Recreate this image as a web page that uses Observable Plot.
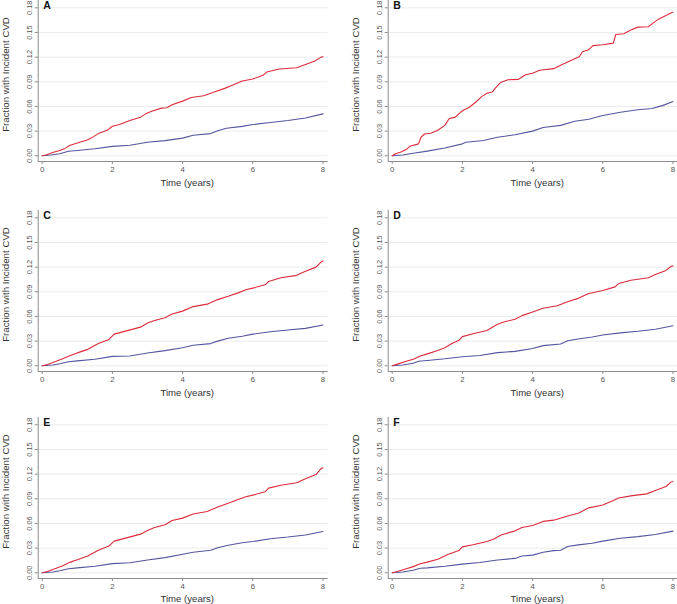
<!DOCTYPE html>
<html><head><meta charset="utf-8">
<script src="https://cdn.jsdelivr.net/npm/d3@7"></script>
<script src="https://cdn.jsdelivr.net/npm/@observablehq/plot@0.6"></script>
<style>
html,body{margin:0;padding:0;background:#fff;overflow:hidden;}
#chart{position:relative;width:677px;height:604px;background:#fff;font-family:"Liberation Sans",Arial,sans-serif;}
.panel{position:absolute;}
</style></head><body><div id="chart"></div>
<script>
// ---- data ----
const panelLetters = ["A","B","C","D","E","F"];
const xTicks = [0, 2, 4, 6, 8];
const yTicks = [0, 0.03, 0.06, 0.09, 0.12, 0.15, 0.18];
const xTitle = "Time (years)";
const yTitle = "Fraction with Incident CVD";

// [time (years), cumulative fraction]
const redA = [[0,0],[0.1,0.001],[0.3,0.004],[0.5,0.0065],[0.65,0.009],[0.78,0.0125],[1.0,0.0155],[1.3,0.0195],[1.45,0.023],[1.6,0.027],[1.85,0.031],[2.0,0.036],[2.2,0.038],[2.5,0.043],[2.8,0.047],[2.95,0.051],[3.1,0.054],[3.4,0.058],[3.55,0.0585],[3.7,0.062],[4.0,0.0665],[4.25,0.071],[4.6,0.073],[4.9,0.0775],[5.2,0.082],[5.4,0.0855],[5.7,0.091],[6.0,0.0935],[6.3,0.098],[6.4,0.102],[6.75,0.1055],[7.25,0.107],[7.5,0.111],[7.75,0.115],[7.95,0.12],[8.0,0.1205]];
const blueA = [[0,0],[0.25,0.001],[0.5,0.0025],[0.75,0.0055],[1.0,0.0065],[1.5,0.0085],[2.0,0.0115],[2.5,0.0128],[3.0,0.0165],[3.5,0.0185],[4.0,0.0215],[4.3,0.025],[4.8,0.027],[5.0,0.0305],[5.25,0.0335],[5.7,0.0358],[6.0,0.038],[6.5,0.0405],[7.0,0.043],[7.5,0.046],[8.0,0.051]];

const redB = [[0,0],[0.1,0.0025],[0.25,0.0045],[0.4,0.0075],[0.5,0.0115],[0.75,0.0145],[0.82,0.0225],[0.92,0.0265],[1.1,0.0275],[1.3,0.031],[1.5,0.037],[1.62,0.045],[1.8,0.047],[1.95,0.053],[2.05,0.056],[2.2,0.059],[2.4,0.066],[2.55,0.072],[2.7,0.076],[2.85,0.0775],[2.95,0.083],[3.1,0.0895],[3.3,0.0925],[3.6,0.093],[3.8,0.0985],[4.0,0.1005],[4.2,0.104],[4.6,0.106],[4.8,0.110],[5.0,0.114],[5.2,0.118],[5.33,0.1205],[5.42,0.1265],[5.6,0.129],[5.72,0.134],[6.0,0.135],[6.3,0.137],[6.37,0.1475],[6.6,0.1485],[6.8,0.153],[7.0,0.1565],[7.3,0.157],[7.42,0.161],[7.6,0.1665],[7.8,0.1705],[7.95,0.174],[8.0,0.1745]];
const blueB = [[0,0],[0.3,0.001],[0.6,0.003],[1.0,0.0057],[1.5,0.0095],[2.0,0.0145],[2.1,0.0165],[2.6,0.0185],[3.0,0.0225],[3.5,0.0255],[4.0,0.030],[4.3,0.0345],[4.8,0.037],[5.2,0.042],[5.6,0.0445],[6.0,0.049],[6.5,0.053],[7.0,0.056],[7.4,0.0575],[7.7,0.061],[8.0,0.066]];

const redC = [[0,0],[0.15,0.0015],[0.4,0.0055],[0.6,0.009],[0.8,0.0125],[1.0,0.0157],[1.3,0.02],[1.6,0.027],[1.9,0.032],[2.05,0.0385],[2.4,0.0425],[2.8,0.047],[3.0,0.052],[3.2,0.055],[3.5,0.0585],[3.7,0.063],[4.0,0.0665],[4.3,0.072],[4.7,0.075],[5.0,0.0805],[5.3,0.0845],[5.6,0.089],[5.8,0.0925],[6.0,0.0945],[6.35,0.0985],[6.45,0.1025],[6.8,0.107],[7.25,0.11],[7.5,0.115],[7.8,0.12],[7.95,0.1265],[8.0,0.1275]];
const blueC = [[0,0],[0.3,0.001],[0.5,0.0025],[0.75,0.005],[1.0,0.006],[1.5,0.008],[2.0,0.0115],[2.5,0.012],[3.0,0.0155],[3.5,0.0185],[4.0,0.022],[4.3,0.025],[4.8,0.027],[5.0,0.03],[5.3,0.0335],[5.7,0.036],[6.0,0.0385],[6.5,0.0415],[7.0,0.0435],[7.5,0.0455],[8.0,0.0497]];

const redD = [[0,0],[0.15,0.002],[0.4,0.0055],[0.6,0.008],[0.8,0.012],[1.0,0.0145],[1.3,0.0185],[1.5,0.022],[1.7,0.027],[1.9,0.031],[2.0,0.0355],[2.3,0.039],[2.7,0.043],[3.0,0.0505],[3.2,0.0535],[3.5,0.0565],[3.7,0.061],[4.0,0.0655],[4.3,0.07],[4.7,0.073],[5.0,0.078],[5.3,0.082],[5.6,0.088],[6.0,0.0915],[6.35,0.096],[6.45,0.1],[6.8,0.104],[7.3,0.107],[7.5,0.111],[7.8,0.116],[7.95,0.121],[8.0,0.1215]];
const blueD = [[0,0],[0.3,0.001],[0.6,0.003],[0.75,0.0055],[1.0,0.0065],[1.5,0.0085],[2.0,0.011],[2.5,0.0125],[3.0,0.016],[3.5,0.0175],[4.0,0.021],[4.3,0.0245],[4.8,0.0265],[5.0,0.0305],[5.3,0.0325],[5.7,0.035],[6.0,0.0375],[6.5,0.04],[7.0,0.042],[7.5,0.0445],[8.0,0.0487]];

const redE = [[0,0],[0.15,0.0015],[0.4,0.0055],[0.6,0.009],[0.8,0.013],[1.0,0.016],[1.3,0.0205],[1.6,0.0275],[1.9,0.0325],[2.05,0.0385],[2.4,0.0425],[2.8,0.047],[3.0,0.0515],[3.2,0.055],[3.5,0.0585],[3.7,0.0635],[4.0,0.0665],[4.3,0.0715],[4.7,0.0745],[5.0,0.08],[5.3,0.0845],[5.6,0.0895],[5.8,0.0925],[6.0,0.0945],[6.35,0.0985],[6.45,0.103],[6.8,0.1065],[7.25,0.1095],[7.5,0.1145],[7.8,0.1195],[7.95,0.127],[8.0,0.1275]];
const blueE = [[0,0],[0.3,0.001],[0.5,0.0025],[0.75,0.005],[1.0,0.006],[1.5,0.008],[2.0,0.0112],[2.5,0.0122],[3.0,0.0155],[3.5,0.0185],[4.0,0.0225],[4.3,0.025],[4.8,0.0275],[5.0,0.0305],[5.3,0.0335],[5.7,0.0365],[6.0,0.038],[6.5,0.0415],[7.0,0.0435],[7.5,0.046],[8.0,0.0503]];

const redF = [[0,0],[0.15,0.0015],[0.4,0.005],[0.6,0.0075],[0.8,0.011],[1.0,0.013],[1.3,0.0165],[1.6,0.0225],[1.9,0.027],[2.0,0.0315],[2.3,0.034],[2.7,0.038],[2.9,0.041],[3.1,0.046],[3.5,0.051],[3.7,0.055],[4.0,0.0575],[4.3,0.0625],[4.6,0.064],[5.0,0.069],[5.3,0.0725],[5.6,0.079],[6.0,0.0825],[6.3,0.088],[6.45,0.091],[6.8,0.0935],[7.25,0.096],[7.5,0.1],[7.8,0.105],[7.95,0.1105],[8.0,0.111]];
const blueF = [[0,0],[0.3,0.001],[0.6,0.003],[0.8,0.0055],[1.0,0.006],[1.5,0.008],[2.0,0.0105],[2.5,0.0125],[3.0,0.0155],[3.5,0.0175],[3.7,0.0205],[4.0,0.0215],[4.3,0.025],[4.6,0.027],[4.8,0.0275],[5.0,0.032],[5.3,0.034],[5.7,0.036],[6.0,0.0385],[6.5,0.042],[7.0,0.044],[7.5,0.0465],[8.0,0.0507]];

// ---- layout / styling ----
const redSeries = [redA, redB, redC, redD, redE, redF];
const blueSeries = [blueA, blueB, blueC, blueD, blueE, blueF];
const colLeft = [0, 349.8];
const rowTop = [0, 210.2, 416.9];
const titleDy = [21.7, 21.5, 20.6];
const RED = "#dc2a3a", BLUE = "#55559f";
const frameW = 290, frameH = 161, mL = 37.7, H = 187;
const pxPerYear = 35.1, pxPerUnit = 148 / 0.18;
const xDomain = [-4 / pxPerYear, 8 + (frameW - 4 - 8 * pxPerYear) / pxPerYear];
const yDomain = [-5.7 / pxPerUnit, 0.18 + 7.3 / pxPerUnit];

const chart = document.getElementById("chart");
panelLetters.forEach((letter, i) => {
  const col = i % 2, row = Math.floor(i / 2);
  const W = col === 0 ? 338 : 677 - colLeft[1];
  const plot = Plot.plot({
    width: W, height: H,
    marginLeft: mL, marginRight: W - mL - frameW, marginTop: 0, marginBottom: H - frameH,
    x: {domain: xDomain}, y: {domain: yDomain},
    style: {fontFamily: '"Liberation Sans", Arial, sans-serif', overflow: "visible", background: "transparent"},
    marks: [
      Plot.gridY(yTicks, {stroke: "#ebebeb", strokeOpacity: 1}),
      Plot.ruleX([xDomain[0]], {stroke: "#8c8c8c"}),
      Plot.ruleY([yDomain[0]], {stroke: "#8c8c8c"}),
      Plot.axisX(xTicks, {tickSize: 3, tickPadding: 2, fontSize: 7.8, label: null, stroke: "#8c8c8c", fill: "#555"}),
      Plot.axisY(yTicks, {tickSize: 3, tickPadding: 3, tickRotate: -90, tickFormat: d3.format(".2f"), fontSize: 7.4, label: null, stroke: "#8c8c8c", fill: "#555"}),
      Plot.line(blueSeries[i], {x: d => d[0], y: d => d[1], curve: "linear", stroke: BLUE, strokeWidth: 1.1}),
      Plot.line(redSeries[i], {x: d => d[0], y: d => d[1], curve: "linear", stroke: RED, strokeWidth: 1.1}),
      Plot.text([xTitle], {text: d => d, frameAnchor: "bottom", dx: 4, dy: titleDy[row], lineAnchor: "middle", fontSize: 9.6, fill: "#333"}),
      Plot.text([yTitle], {text: d => d, frameAnchor: "left", rotate: -90, dx: -29, dy: -6.5, textAnchor: "middle", lineAnchor: "bottom", fontSize: 9.7, fill: "#333"}),
      Plot.text([letter], {text: d => d, frameAnchor: "top-left", dx: 5, dy: 1.2, textAnchor: "start", lineAnchor: "top", fontWeight: "bold", fontSize: 10.5, fill: "#111"})
    ]
  });
  const div = document.createElement("div");
  div.className = "panel";
  div.style.left = colLeft[col] + "px";
  div.style.top = rowTop[row] + "px";
  div.appendChild(plot);
  chart.appendChild(div);
});
</script></body></html>
